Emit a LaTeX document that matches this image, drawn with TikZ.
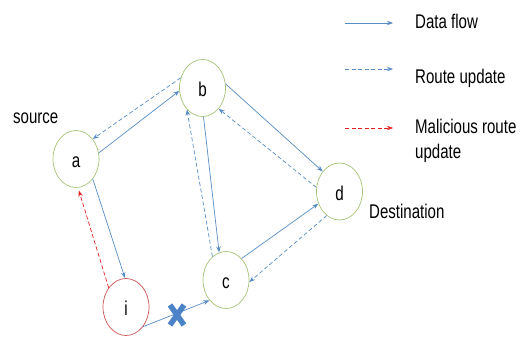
\documentclass[tikz,border=0pt]{standalone}
\usepackage{fontspec}
\setmainfont[FakeStretch=0.76]{Liberation Sans}
\usetikzlibrary{shapes.geometric,arrows.meta}
\definecolor{flowblue}{RGB}{88,140,196}
\definecolor{nodegreen}{RGB}{165,195,120}
\definecolor{nodered}{RGB}{205,85,85}
\definecolor{malred}{RGB}{225,30,30}
\definecolor{crossblue}{RGB}{75,130,200}
\tikzset{
  netnode/.style={ellipse, draw=nodegreen, line width=0.7pt, minimum width=46pt, minimum height=57pt, inner sep=0pt, text height=19pt, text depth=2pt, font=\fontsize{20}{23}\selectfont},
  badnode/.style={netnode, draw=nodered},
  dataflow/.style={draw=flowblue, line width=0.7pt, -{Stealth[length=6pt,width=4.5pt]}},
  routeupd/.style={dataflow, dash pattern=on 4pt off 2.5pt},
  malupd/.style={draw=malred, line width=0.7pt, dash pattern=on 4pt off 2.5pt, -{Stealth[length=6pt,width=4.5pt]}, malred},
  lbl/.style={font=\fontsize{19.8}{25}\selectfont, inner sep=0pt}
}
\begin{document}
\begin{tikzpicture}[x=1pt,y=-1pt]
\useasboundingbox (0,0) rectangle (526,340);
% nodes
\node[netnode] (a) at (76,159) {a};
\node[netnode] (b) at (202.5,88) {b};
\node[netnode] (c) at (226,280) {c};
\node[netnode] (d) at (339.5,191.5) {d};
\node[badnode] (i) at (126,307) {i};
% labels
\node[lbl, anchor=base west] (src) at (13,123) {source};
\node[lbl, anchor=base west] (dst) at (369,218) {Destination};
% edges
\draw[dataflow] (a.15) -- (b.187);
\draw[routeupd] (b.155) -- (a.50);
\draw[dataflow] (a.-50) -- (i.92);
\draw[malupd, shorten >=3pt] (i.132) -- (a.-86);
\draw[dataflow] (b.-88) -- (c.104);
\draw[routeupd] (c.120) -- (b.-126);
\draw[dataflow] (b.10) -- (d.130);
\draw[routeupd] (d.170) -- (b.-52);
\draw[dataflow] (c.54) -- (d.-150);
\draw[routeupd] (d.-118) -- (c.-5);
\draw[dataflow] (i.-49) -- (c.-129);
% blocked link cross
\coordinate (x) at (177,315);
\draw[crossblue, line width=5.5pt] ([shift={(-7,-10)}]x) -- ([shift={(7,10)}]x);
\draw[crossblue, line width=5.5pt] ([shift={(-7,10)}]x) -- ([shift={(7,-10)}]x);
% legend
\coordinate (l1s) at (345,23); \coordinate (l1e) at (393,23);
\coordinate (l2s) at (345,69); \coordinate (l2e) at (393,69);
\coordinate (l3s) at (345,128); \coordinate (l3e) at (393,128);
\draw[dataflow] (l1s) -- (l1e);
\draw[routeupd] (l2s) -- (l2e);
\draw[malupd] (l3s) -- (l3e);
\node[lbl, anchor=base west] (t1) at (415,28) {Data flow};
\node[lbl, anchor=base west] (t2) at (415,83) {Route update};
\node[lbl, anchor=north west, align=left] (t3) at (415,118.5) {Malicious route\\update};
\end{tikzpicture}
\end{document}
